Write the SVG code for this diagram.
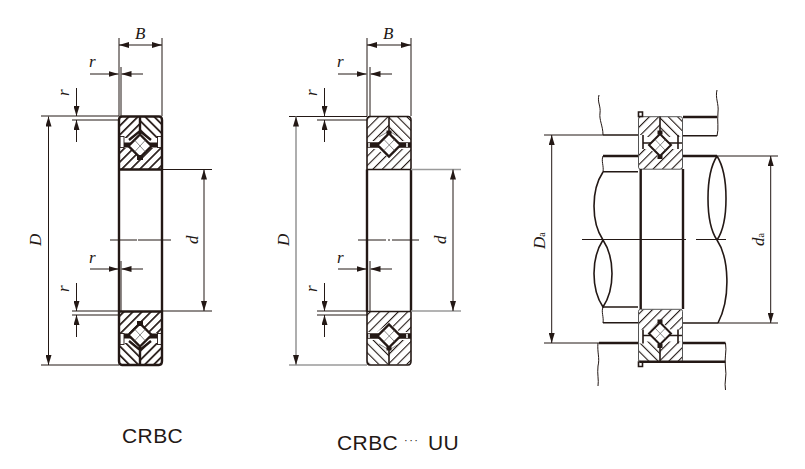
<svg xmlns="http://www.w3.org/2000/svg" xmlns:xlink="http://www.w3.org/1999/xlink" width="805" height="469" viewBox="0 0 805 469">
<style>
.l{fill:none;stroke:#231815;stroke-width:1}
.g{fill:none;stroke:#9a9a9a;stroke-width:1.6}
.k{fill:none;stroke:#231815;stroke-width:2.4}
.m{fill:none;stroke:#231815;stroke-width:1.6}
.a{marker-end:url(#a)}
.dd{marker-start:url(#a);marker-end:url(#a)}
.t{font-family:"Liberation Serif",serif;font-style:italic;font-size:17px;fill:#231815}
.s{font-family:"Liberation Sans",sans-serif;font-size:21px;fill:#231815;letter-spacing:.4px}
.o{fill:#fff;stroke:#231815;stroke-width:.9}
.b{fill:#231815}
.c{fill:none;stroke:#555;stroke-width:.7}
</style>
<defs>
<marker id="a" markerWidth="10" markerHeight="6" refX="10" refY="3" orient="auto-start-reverse" markerUnits="userSpaceOnUse"><path d="M0,0L10,3L0,6z" fill="#231815"/></marker>
<pattern id="h1" width="6.4" height="6.4" patternUnits="userSpaceOnUse" patternTransform="rotate(45)"><rect width="1.7" height="6.4" fill="#231815"/></pattern>
<pattern id="h2" width="6.4" height="6.4" patternUnits="userSpaceOnUse" patternTransform="rotate(-45)"><rect width="1.7" height="6.4" fill="#231815"/></pattern>
<pattern id="h3" width="6.6" height="6.6" patternUnits="userSpaceOnUse" patternTransform="rotate(45)"><rect width="1.1" height="6.6" fill="#231815"/></pattern>
<pattern id="h4" width="6.6" height="6.6" patternUnits="userSpaceOnUse" patternTransform="rotate(-45)"><rect width="1.1" height="6.6" fill="#231815"/></pattern>
<g id="t1">
<rect x="119" y="116.5" width="43" height="53" rx="3" fill="#fff"/>
<path d="M119,116.5H140V131L130,138H119z" fill="url(#h1)"/>
<path d="M162,116.5H140V131L150,138H162z" fill="url(#h2)"/>
<path d="M140,116V134M129,140L140,131L151,140" class="k"/>
<path d="M123,145H131M149,145H158" fill="none" stroke="#231815" stroke-width="5"/>
<rect x="120" y="136.5" width="4" height="11" class="o"/>
<rect x="157.500" y="136.500" width="4" height="11" class="o"/>
</g>
<g id="t2">
<rect x="367" y="116.500" width="44" height="53" rx="3" fill="#fff"/>
<path d="M367,116.500H389V131L379,141H367z" fill="url(#h3)"/>
<path d="M411,116.500H389V131L399,141H411z" fill="url(#h4)"/>
<path d="M389,116V132" class="m"/>
<path d="M379,137L389,131L399,137" class="c"/>
<path d="M367,145H381M397,145H411" fill="none" stroke="#231815" stroke-width="5.500"/>
<path d="M369,143v4M407,143v4" stroke="#fff" stroke-width="1.500"/>
<rect x="386.500" y="130.500" width="5" height="4" class="b"/>
</g>
<g id="t3">
<rect x="638.500" y="116.700" width="44" height="52.500" rx="2" fill="#fff"/>
<path d="M638.500,116.700H660V131L651,137H643V135H638.500z" fill="url(#h3)"/>
<path d="M682.500,116.700H660V131L669,137H682.500z" fill="url(#h4)"/>
<path d="M660,116V132" class="m"/>
<path d="M643,135V149M678,135V149M643,143H652M668,143H682" class="m"/>
<rect x="657.500" y="130.500" width="5" height="4" class="b"/>
</g>
</defs>
<rect width="805" height="469" fill="#fff"/>

<g id="bearing-crbc">
<use xlink:href="#t1" href="#t1"/>
<use xlink:href="#t1" href="#t1" transform="translate(0,481) scale(1,-1)"/>
<path d="M119,148H130L140,158L150,148H162V169H119z" fill="url(#h1)"/>
<path d="M119,333H130L140,323L150,333H162V312H119z" fill="url(#h1)"/>
<path d="M140,134.500L151.500,146L140,157.500L128.500,146z" fill="#fff" stroke="#231815" stroke-width="2.400"/>
<path d="M134.500,140L145.500,152M145.500,140L134.500,152" class="c"/>
<rect x="137" y="155" width="6" height="5" class="b"/>
<path d="M140,346.500L151.500,335L140,323.500L128.500,335z" fill="#fff" stroke="#231815" stroke-width="2.400"/>
<path d="M134.500,341L145.500,329M145.500,341L134.500,329" class="c"/>
<rect x="137" y="321" width="6" height="5" class="b"/>
<path d="M122,116.500H159Q162,116.500 162,120V361 M119,361V120Q119,116.500 122,116.500" class="k"/>
<path d="M119,169.500H162M119,311.500H162" class="k"/>
<path d="M119,361Q119,365 122,365H159Q162,365 162,361" class="k"/>
</g>

<g id="bearing-crbc-uu">
<use xlink:href="#t2" href="#t2"/>
<use xlink:href="#t2" href="#t2" transform="translate(0,481) scale(1,-1)"/>
<path d="M367,149H377L389,158L400,149H411V169H367z" fill="url(#h3)"/>
<path d="M367,332H377L389,323L400,332H411V312H367z" fill="url(#h3)"/>
<path d="M389,133.500L400.500,145L389,156.500L377.500,145z" fill="#fff" stroke="#231815" stroke-width="2.400"/>
<path d="M384,139.500L394.500,150.500M394.500,139.500L384,150.500" class="c"/>
<path d="M389,347.500L400.500,336L389,324.500L377.500,336z" fill="#fff" stroke="#231815" stroke-width="2.400"/>
<path d="M384,341.500L394.500,330.500M394.500,341.500L384,330.500" class="c"/>
<path d="M370,116.500H408Q411,116.500 411,120V361Q411,365 408,365H370Q367,365 367,361V120Q367,116.500 370,116.500z" class="m"/>
<path d="M367,169.500H411M367,311.500H411" class="m"/>
<path d="M367,169.500V311.500M411,169.500V311.500" class="k"/>
</g>

<g id="bearing-mounted">
<use xlink:href="#t3" href="#t3"/>
<use xlink:href="#t3" href="#t3" transform="translate(0,478.500) scale(1,-1)"/>
<path d="M643,149H650L660,158L670,149H682.500V169H638.500V149z" fill="url(#h3)"/>
<path d="M643,329.500H650L660,320.500L670,329.500H682.500V309.500H638.500V329.500z" fill="url(#h3)"/>
<path d="M660,134L671,145L660,156L649,145z" fill="#fff" stroke="#231815" stroke-width="2"/>
<path d="M655,139.500L665.500,150.500M665.500,139.500L655,150.500" class="c"/>
<rect x="657.500" y="155" width="5" height="4" class="b"/>
<path d="M660,344.500L671,333.500L660,322.500L649,333.500z" fill="#fff" stroke="#231815" stroke-width="2"/>
<path d="M655,339L665.500,328M665.500,339L655,328" class="c"/>
<rect x="657.500" y="319.500" width="5" height="4" class="b"/>
<rect x="638.500" y="116.700" width="44" height="52.500" rx="2" fill="none" stroke="#555" stroke-width="1"/>
<rect x="638.500" y="309.300" width="44" height="52.500" rx="2" fill="none" stroke="#555" stroke-width="1"/>
<path d="M640.700,169V309M683,169V309" class="k"/>
<path d="M638.500,112H642.500V116.500H638.500zM638.500,362H642.500V366.500H638.500z" class="m"/>
</g>

<g id="housing-shaft">
<path d="M683,117H717M683,156H717M603,156H638M599,343H638M683,343H725.500M640,361.700H725.500" class="k"/>
<path d="M603,135H638M683,135.700H717M603,171.700H638M603,307H638M603,322.700H638M683,323H718" class="m"/>
<path d="M599,95C597,102 601,106 600,113C599,120 603,126 603,135" class="l"/>
<path d="M717,90C715,98 719,104 718,112C717,122 719,128 717,136" class="l"/>
<path d="M603,156C601,161 604,166 603,172M603,307C601,312 604,317 603,323" class="l"/>
<path d="M598,343C597,352 600,358 598,366C597,374 599,380 598,386" class="l"/>
<path d="M725.500,343C727,352 724,358 725.500,368C727,376 724,382 725.500,390" class="l"/>
<path d="M603,172C591,190 591,222 603,240C615,258 615,289 603,307C591,289 591,258 603,240" class="m"/>
<path d="M717,156C705,175 705,222 717,240C729,222 729,175 717,156M717,240C729,258 731,298 718,323" class="m"/>
</g>

<g id="connectors">
<path d="M119,38V116M162,38V116M121,67V116M41,116H119M72,120H119M162,169.500H212M41,365H119M72,311H119M72,315H119M121,261V311M162,311H212M110,240H137M138,240H171" class="l"/>
<line x1="119" y1="45" x2="162" y2="45" class="l dd"/>
<line x1="90" y1="74" x2="118.500" y2="74" class="l a"/>
<line x1="143" y1="74" x2="121.500" y2="74" class="l a"/>
<line x1="76.500" y1="88" x2="76.500" y2="116" class="l a"/>
<line x1="76.500" y1="142" x2="76.500" y2="120" class="l a"/>
<line x1="48.500" y1="116.500" x2="48.500" y2="365" class="l dd"/>
<line x1="204" y1="169.500" x2="204" y2="311" class="l dd"/>
<line x1="90" y1="269" x2="118.500" y2="269" class="l a"/>
<line x1="143" y1="269" x2="121.500" y2="269" class="l a"/>
<line x1="76.500" y1="283" x2="76.500" y2="311" class="l a"/>
<line x1="76.500" y1="337" x2="76.500" y2="315" class="l a"/>

<path d="M367,38V116M411,38V116M370,67V116M289,116.500H367M317,120H367M317,311H367M317,315H367M370,261V311M358,240H386M388,240H390M392,240H419" class="l"/>
<path d="M411,169.500H461M411,311H461M289,365H367" class="g"/>
<line x1="367" y1="45" x2="411" y2="45" class="l dd"/>
<line x1="338" y1="74" x2="366.500" y2="74" class="l a"/>
<line x1="392" y1="74" x2="370.500" y2="74" class="l a"/>
<line x1="324.500" y1="88" x2="324.500" y2="116" class="l a"/>
<line x1="324.500" y1="142" x2="324.500" y2="120" class="l a"/>
<line x1="296" y1="116.500" x2="296" y2="365" class="g dd"/>
<line x1="453" y1="169.500" x2="453" y2="311" class="l dd"/>
<line x1="338" y1="269" x2="366.500" y2="269" class="l a"/>
<line x1="392" y1="269" x2="370.500" y2="269" class="l a"/>
<line x1="324.500" y1="283" x2="324.500" y2="311" class="l a"/>
<line x1="324.500" y1="337" x2="324.500" y2="315" class="l a"/>

<path d="M544,135H603M544,343H599M717,156H778M718,323H778M582,239.500H686M696,239.500H726" class="l"/>
<line x1="551.700" y1="135" x2="551.700" y2="343" class="l dd"/>
<line x1="770.700" y1="156" x2="770.700" y2="323" class="l dd"/>
</g>

<g id="labels">
<text class="t" x="135" y="39">B</text>
<text class="t" x="89" y="67">r</text>
<text class="t" x="89" y="263">r</text>
<text class="t" transform="translate(69,96) rotate(-90)">r</text>
<text class="t" transform="translate(69,292) rotate(-90)">r</text>
<text class="t" transform="translate(41,246) rotate(-90)">D</text>
<text class="t" transform="translate(198,244) rotate(-90)">d</text>
<text class="t" x="383" y="39">B</text>
<text class="t" x="337" y="67">r</text>
<text class="t" x="337" y="263">r</text>
<text class="t" transform="translate(317,96) rotate(-90)">r</text>
<text class="t" transform="translate(317,292) rotate(-90)">r</text>
<text class="t" transform="translate(289,246) rotate(-90)">D</text>
<text class="t" transform="translate(446,244) rotate(-90)">d</text>
<text class="t" transform="translate(545,249) rotate(-90)">D<tspan font-size="10" font-style="normal">a</tspan></text>
<text class="t" transform="translate(764,246) rotate(-90)">d<tspan font-size="10" font-style="normal">a</tspan></text>
<text class="s" x="122" y="443">CRBC</text>
<text class="s" x="337" y="450">CRBC</text>
<text class="s" x="404" y="444" style="font-size:11px;letter-spacing:1.5px">···</text>
<text class="s" x="428" y="450">UU</text>
</g>
</svg>
